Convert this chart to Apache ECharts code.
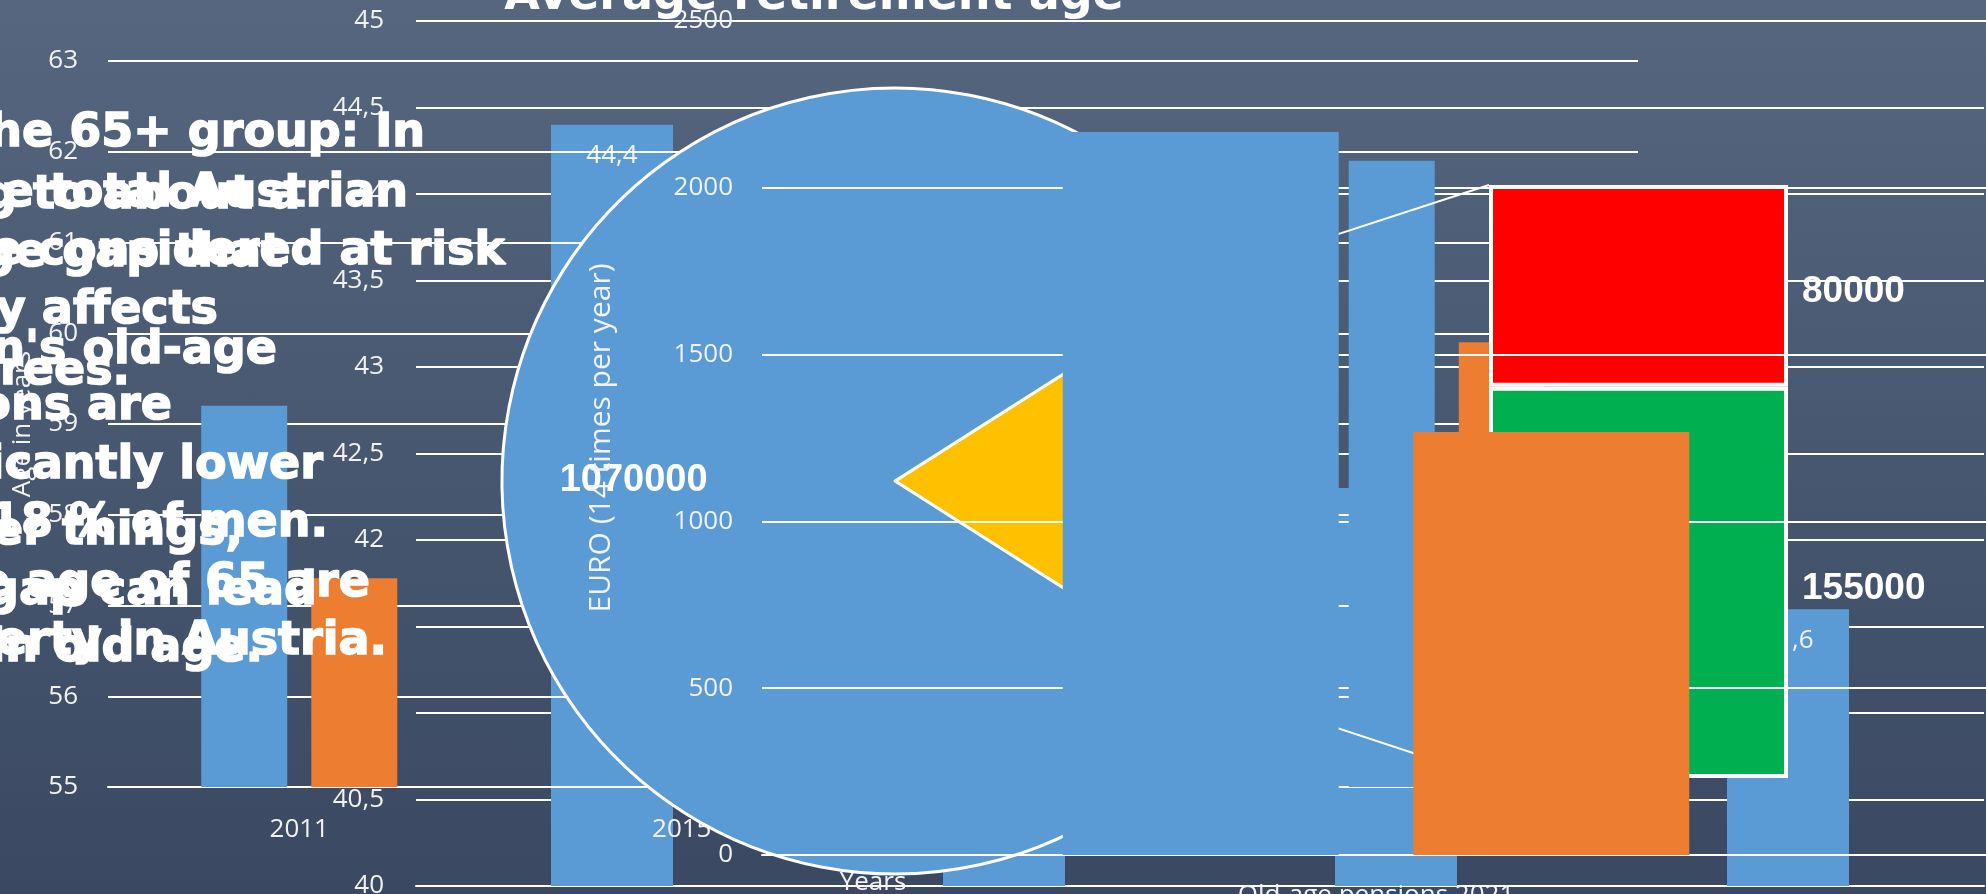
<!DOCTYPE html>
<html>
<head>
<meta charset="utf-8">
<script src="https://cdn.jsdelivr.net/npm/echarts@6/dist/echarts.min.js"></script>
<style>
  html, body { margin: 0; padding: 0; }
  body { background: linear-gradient(to bottom, #56667f 0%, #3a4961 100%); }
  #main { width: 1986px; height: 894px; }
</style>
</head>
<body>
<div id="main"></div>
<script>
// left chart: retirement age by year
var ageYears = ['2011', '2015', '2019', '2023'];
var ageMen = [59.2, '-', '-', 61.9];
var ageWomen = [57.3, '-', '-', 59.9];

// average retirement age
var avgCats = ['2015', '2017', '2019', '2021'];
var avgValues = [44.4, 43.1, 42.3, 41.6];

// old-age pensions
var pensionCats = ['Old-age pensions 2021'];
var pensionMen = [2167];
var pensionWomen = [1268];

// poverty 65+ (bar of pie)
var pieNames = ['At risk of poverty', 'Not at risk'];
var pieValues = [235000, 1070000];
var riskNames = ['Women', 'Men'];
var riskValues = [155000, 80000];

// text boxes, [line, right end x, baseline y]
var povertyLines = [
  ['Poverty in the 65+ group: In', 425, 145],
  ['2021, around 15 % of the total Austrian', 408, 205],
  ['population aged 65 and over were considered at risk', 505, 263],
  ['of poverty. Old-age poverty particularly affects', 218, 322],
  ['women and retirees.', 130, 383],
  ['Women: 22 %, compared to 18 % of men.', 328, 535],
  ['Around 1 in 6 people above the age of 65 are', 370, 595],
  ['affected by poverty in Austria.', 387, 653]
];
var gapLines = [
  ['In Austria, women earn less than men, amounting to about a', 300, 207],
  ['37 % gender pension gap. It is a wage gap that', 283, 265],
  ['has a strong impact on women\'s old-age', 277, 362],
  ['pensions. Women\'s pensions are', 172, 418],
  ['significantly lower', 323, 477],
  ['than men\'s. Among other things,', 243, 543],
  ['the gender pay gap can lead', 317, 603],
  ['to poverty in old age.', 263, 660]
];

var BLUE = '#5b9bd5', ORANGE = '#ed7d31';
var txt = '#f2f2f2';
var tickFont = { color: txt, fontSize: 26, fontFamily: 'Open Sans' };
var comma = function (v) { return String(v).replace('.', ','); };
var plain = function (v) { return String(v); };
var pieCenter = [895, 481], pieR = 393;
var stackLeft = 1489;

var pieTotal = pieValues[0] + pieValues[1];
var halfAngle = 180 * pieValues[0] / pieTotal;
var riskTotal = riskValues[0] + riskValues[1];

function gridLine() { return { show: true, lineStyle: { color: '#ffffff', width: 2 } }; }

var chart = echarts.init(document.getElementById('main'));

var texts = [];
povertyLines.concat(gapLines).forEach(function (l) {
  texts.push({
    type: 'text', x: l[1], y: l[2] - 11, z: 100,
    style: {
      text: l[0], fill: '#ffffff', font: 'bold 46px "DejaVu Sans"',
      stroke: '#ffffff', lineWidth: 1.5,
      align: 'right', verticalAlign: 'middle'
    }
  });
});

var stackLabel = {
  show: true, position: 'right', distance: 14, offset: [0, 6], color: '#ffffff', fontSize: 37,
  fontWeight: 'bold', fontFamily: 'Liberation Sans',
  formatter: function (p) { return String(p.value); }
};

var option = {
  animation: false,
  backgroundColor: 'transparent',
  title: {
    text: 'Average retirement age',
    left: 814, top: -26, padding: 0, textAlign: 'center', z: 100,
    textStyle: { color: '#ffffff', fontSize: 46, fontWeight: 'bold', fontFamily: 'DejaVu Sans' }
  },
  grid: [
    { left: 108, top: 61, width: 1530, height: 726, outerBoundsMode: 'none', containLabel: false },
    { left: 416, top: 21, width: 1568, height: 865, outerBoundsMode: 'none', containLabel: false },
    { left: 762, top: 21, width: 1228, height: 834, outerBoundsMode: 'none', containLabel: false },
    { left: stackLeft, top: 185, width: 299, height: 593, outerBoundsMode: 'none', containLabel: false }
  ],
  xAxis: [
    {
      type: 'category', gridIndex: 0, data: ageYears, z: 20,
      axisLine: gridLine(), axisTick: { show: false },
      axisLabel: Object.assign({ margin: 30 }, tickFont),
      name: 'Years', nameLocation: 'middle', nameGap: 83, nameTextStyle: tickFont
    },
    {
      type: 'category', gridIndex: 1, data: avgCats, z: 0,
      axisLine: gridLine(), axisTick: { show: false },
      axisLabel: Object.assign({ margin: 30 }, tickFont)
    },
    {
      type: 'category', gridIndex: 2, data: pensionCats, z: 50,
      axisLine: gridLine(), axisTick: { show: false },
      axisLabel: Object.assign({ margin: 28 }, tickFont)
    },
    { type: 'category', gridIndex: 3, data: [''], show: false }
  ],
  yAxis: [
    {
      type: 'value', gridIndex: 0, min: 55, max: 63, interval: 1, z: 20,
      splitLine: gridLine(), axisLine: { show: false },
      axisLabel: Object.assign({ margin: 30, formatter: plain }, tickFont),
      name: 'Age in years', nameLocation: 'middle', nameRotate: 90, nameGap: 72,
      nameTextStyle: tickFont
    },
    {
      type: 'value', gridIndex: 1, min: 40, max: 45, interval: 0.5, z: 0,
      splitLine: gridLine(), axisLine: { show: false },
      axisLabel: Object.assign({ margin: 32, formatter: comma }, tickFont)
    },
    {
      type: 'value', gridIndex: 2, min: 0, max: 2500, interval: 500, z: 50,
      splitLine: gridLine(), axisLine: { show: false },
      axisLabel: Object.assign({ margin: 29, formatter: plain }, tickFont),
      name: 'EURO (14 times per year)', nameLocation: 'middle', nameRotate: 90, nameGap: 146,
      nameTextStyle: { color: txt, fontSize: 30, fontFamily: 'Open Sans' }
    },
    { type: 'value', gridIndex: 3, min: 0, max: riskTotal, show: false }
  ],
  series: [
    {
      name: 'Average retirement age', type: 'bar', xAxisIndex: 1, yAxisIndex: 1,
      data: avgValues, barWidth: 122, z: 10, itemStyle: { color: BLUE },
      label: {
        show: true, position: 'insideTop', distance: 18, color: txt, fontSize: 26,
        fontFamily: 'Open Sans', formatter: function (p) { return comma(p.value); }
      }
    },
    {
      name: 'Men', type: 'bar', xAxisIndex: 0, yAxisIndex: 0,
      data: ageMen, barWidth: 86, barGap: '28%', z: 60, itemStyle: { color: BLUE }
    },
    {
      name: 'Women', type: 'bar', xAxisIndex: 0, yAxisIndex: 0,
      data: ageWomen, barWidth: 86, barGap: '28%', z: 35, itemStyle: { color: ORANGE }
    },
    {
      name: 'Poverty 65+', type: 'pie', center: pieCenter, radius: pieR,
      startAngle: halfAngle, clockwise: true, z: 30,
      avoidLabelOverlap: false,
      itemStyle: { borderColor: '#ffffff', borderWidth: 3 },
      label: {
        show: true, position: 'inside', color: '#ffffff', fontSize: 38, fontWeight: 'bold',
        fontFamily: 'Liberation Sans', formatter: function (p) { return String(p.value); }
      },
      labelLine: { show: false },
      // big slice label sits further out, towards the rim
      labelLayout: function (p) {
        return p.dataIndex === 1
          ? { x: pieCenter[0] - 0.665 * pieR, y: pieCenter[1], align: 'center', verticalAlign: 'middle' }
          : {};
      },
      data: [
        { name: pieNames[0], value: pieValues[0], itemStyle: { color: '#ffc000' }, label: { show: false } },
        { name: pieNames[1], value: pieValues[1], itemStyle: { color: BLUE } }
      ]
    },
    {
      name: riskNames[0], type: 'bar', xAxisIndex: 3, yAxisIndex: 3, stack: 'risk',
      data: [riskValues[0]], barCategoryGap: '0%', z: 40,
      itemStyle: { color: '#00b050', borderColor: '#ffffff', borderWidth: 4 },
      label: stackLabel
    },
    {
      name: riskNames[1], type: 'bar', xAxisIndex: 3, yAxisIndex: 3, stack: 'risk',
      data: [riskValues[1]], barCategoryGap: '0%', z: 40,
      itemStyle: { color: '#ff0000', borderColor: '#ffffff', borderWidth: 4 },
      label: stackLabel
    },
    {
      name: 'Men', type: 'bar', xAxisIndex: 2, yAxisIndex: 2,
      data: pensionMen, barWidth: 276, barGap: '27%', z: 70, itemStyle: { color: BLUE }
    },
    {
      name: 'Women', type: 'bar', xAxisIndex: 2, yAxisIndex: 2,
      data: pensionWomen, barWidth: 276, barGap: '27%', z: 70, itemStyle: { color: ORANGE }
    }
  ],
  graphic: texts
};

chart.setOption(option);

// connector lines from the pie slice edge to the stacked bar
var a = halfAngle * Math.PI / 180;
var ex = pieCenter[0] + pieR * Math.cos(a);
var eyTop = pieCenter[1] - pieR * Math.sin(a);
var eyBot = pieCenter[1] + pieR * Math.sin(a);
var barTop = chart.convertToPixel({ xAxisIndex: 3, yAxisIndex: 3 }, [0, riskTotal]);
var barBot = chart.convertToPixel({ xAxisIndex: 3, yAxisIndex: 3 }, [0, 0]);
var lines = [
  [ex, eyTop, stackLeft, barTop[1]],
  [ex, eyBot, stackLeft, barBot[1]]
].map(function (s) {
  return {
    type: 'line', z: 65,
    shape: { x1: s[0], y1: s[1], x2: s[2], y2: s[3] },
    style: { stroke: '#ffffff', lineWidth: 2 }
  };
});
chart.setOption({ graphic: texts.concat(lines) });
</script>
</body>
</html>
